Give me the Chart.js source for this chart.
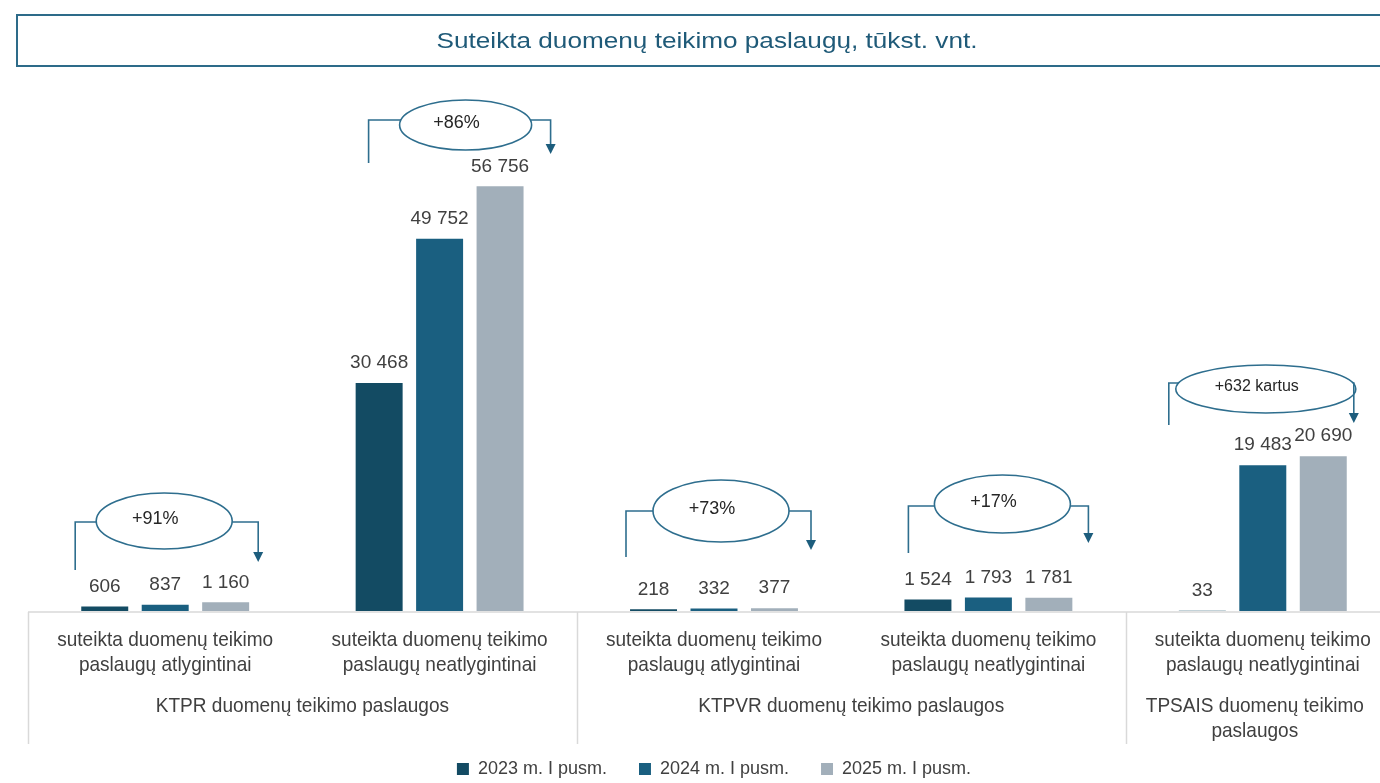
<!DOCTYPE html>
<html>
<head>
<meta charset="utf-8">
<script src="https://cdn.jsdelivr.net/npm/chart.js@4.4.1/dist/chart.umd.min.js"></script>
<style>
  html, body { margin: 0; padding: 0; background: #fff; }
  #wrap { width: 1380px; height: 783px; overflow: hidden; position: relative; }
  canvas { display: block; }
</style>
</head>
<body>
<div id="wrap"><canvas id="chart" width="1400" height="788"></canvas></div>
<script>
// data
const titleText = "Suteikta duomenų teikimo paslaugų, tūkst. vnt.";
const categoryLabels = [
    ["suteikta duomenų teikimo", "paslaugų atlygintinai"],
    ["suteikta duomenų teikimo", "paslaugų neatlygintinai"],
    ["suteikta duomenų teikimo", "paslaugų atlygintinai"],
    ["suteikta duomenų teikimo", "paslaugų neatlygintinai"],
    ["suteikta duomenų teikimo", "paslaugų neatlygintinai"]
];
const groupLabels = [
    ["KTPR duomenų teikimo paslaugos"],
    ["KTPVR duomenų teikimo paslaugos"],
    ["TPSAIS duomenų teikimo", "paslaugos"]
];
const groupRanges = [[0, 1], [2, 3], [4, 4]];
const seriesNames = ["2023 m. I pusm.", "2024 m. I pusm.", "2025 m. I pusm."];
const values2023 = [606, 30468, 218, 1524, 33];
const values2024 = [837, 49752, 332, 1793, 19483];
const values2025 = [1160, 56756, 377, 1781, 20690];
const changeTexts = ["+91%", "+86%", "+73%", "+17%", "+632 kartus"];

const seriesColors = ["#134b63", "#1a5f80", "#a2afba"];
const textColor = "#404040";
const lineColor = "#2e6e8e";
const sansFont = '"Liberation Sans", Arial, sans-serif';

// callout shapes: x offsets from the category centre, y in pixels
const callouts = [
    { cat: 0, left: -90, right: 93, ex: -1, ey: 521, rx: 68, ry: 28, lineY: 522, leftBottom: 570, tip: 562, size: 18 },
    { cat: 1, left: -71, right: 111, ex: 26, ey: 125, rx: 66, ry: 25, lineY: 120, leftBottom: 163, tip: 154, size: 18 },
    { cat: 2, left: -88, right: 97, ex: 7, ey: 511, rx: 68, ry: 31, lineY: 511, leftBottom: 557, tip: 550, size: 18 },
    { cat: 3, left: -80, right: 100, ex: 14, ey: 504, rx: 68, ry: 29, lineY: 506, leftBottom: 553, tip: 543, size: 18 },
    { cat: 4, left: -94, right: 91, ex: 3, ey: 389, rx: 90, ry: 24, lineY: 383, leftBottom: 425, tip: 423, size: 16 }
];

function fmt(v) {
    return String(v).replace(/\B(?=(\d{3})+(?!\d))/g, " ");
}

function condensedText(ctx, text, x, y, sx) {
    ctx.save();
    ctx.translate(x, y);
    ctx.scale(sx, 1);
    ctx.fillText(text, 0, 0);
    ctx.restore();
}

function ellipseEdge(c, y, side) {
    let t = (y - c.ey) / c.ry;
    let w = c.rx * Math.sqrt(Math.max(0, 1 - t * t));
    return side < 0 ? -w : w;
}

const decorations = {
    id: "decorations",
    afterDraw(chart) {
        const ctx = chart.ctx;
        const area = chart.chartArea;
        const x = chart.scales.x;
        const base = area.bottom;

        // title box
        ctx.save();
        ctx.strokeStyle = "#2d6b89";
        ctx.lineWidth = 2;
        ctx.strokeRect(17, 15, 1380, 51);
        ctx.font = "22px " + sansFont;
        let sxTitle = 541 / ctx.measureText(titleText).width;
        ctx.fillStyle = "#1f5a78";
        ctx.textAlign = "center";
        ctx.textBaseline = "middle";
        condensedText(ctx, titleText, 707, 42, sxTitle);
        ctx.restore();

        // axis line and separators
        ctx.save();
        ctx.strokeStyle = "#d9d9d9";
        ctx.lineWidth = 1.5;
        ctx.beginPath();
        ctx.moveTo(area.left, base + 1);
        ctx.lineTo(chart.width, base + 1);
        let seps = [area.left];
        groupRanges.forEach((r, i) => {
            if (i > 0) seps.push((x.getPixelForValue(r[0] - 1) + x.getPixelForValue(r[0])) / 2);
        });
        seps.forEach(sx => {
            ctx.moveTo(Math.round(sx) + 0.5, base + 1);
            ctx.lineTo(Math.round(sx) + 0.5, base + 133);
        });
        ctx.stroke();
        ctx.restore();

        // category and group labels
        ctx.save();
        ctx.font = "21px " + sansFont;
        let sxLab = 216 / ctx.measureText("suteikta duomenų teikimo").width;
        ctx.fillStyle = textColor;
        ctx.textAlign = "center";
        ctx.textBaseline = "middle";
        categoryLabels.forEach((lines, i) => {
            let cx = x.getPixelForValue(i);
            lines.forEach((t, k) => condensedText(ctx, t, cx, base + 29 + k * 25, sxLab));
        });
        groupLabels.forEach((lines, g) => {
            let r = groupRanges[g];
            let cx = (x.getPixelForValue(r[0]) + x.getPixelForValue(r[1])) / 2;
            if (r[0] === r[1]) cx -= 8;
            lines.forEach((t, k) => condensedText(ctx, t, cx, base + 95 + k * 25, sxLab));
        });
        ctx.restore();

        // value labels
        ctx.save();
        ctx.font = "19px " + sansFont;
        ctx.fillStyle = textColor;
        ctx.textAlign = "center";
        ctx.textBaseline = "middle";
        chart.data.datasets.forEach((ds, d) => {
            chart.getDatasetMeta(d).data.forEach((bar, i) => {
                ctx.fillText(fmt(ds.data[i]), bar.x, bar.y - 20);
            });
        });
        ctx.restore();

        // change callouts
        callouts.forEach((c, n) => {
            let cx = x.getPixelForValue(c.cat);
            let e = { ex: cx + c.ex, ey: c.ey, rx: c.rx, ry: c.ry };
            let lx = cx + c.left;
            let rxp = cx + c.right;
            ctx.save();
            ctx.strokeStyle = lineColor;
            ctx.lineWidth = 1.6;
            ctx.beginPath();
            ctx.ellipse(e.ex, e.ey, e.rx, e.ry, 0, 0, Math.PI * 2);
            ctx.stroke();
            ctx.beginPath();
            ctx.moveTo(lx, c.leftBottom);
            ctx.lineTo(lx, c.lineY);
            ctx.lineTo(e.ex + ellipseEdge(c, c.lineY, -1), c.lineY);
            ctx.moveTo(Math.min(e.ex + ellipseEdge(c, c.lineY, 1), rxp), c.lineY);
            ctx.lineTo(rxp, c.lineY);
            ctx.lineTo(rxp, c.tip - 9);
            ctx.stroke();
            ctx.fillStyle = "#1d5d7d";
            ctx.beginPath();
            ctx.moveTo(rxp - 5, c.tip - 10);
            ctx.lineTo(rxp + 5, c.tip - 10);
            ctx.lineTo(rxp, c.tip);
            ctx.closePath();
            ctx.fill();
            ctx.font = c.size + "px " + sansFont;
            ctx.fillStyle = "#262626";
            ctx.textAlign = "center";
            ctx.textBaseline = "middle";
            ctx.fillText(changeTexts[n], e.ex - 9, e.ey - 2);
            ctx.restore();
        });
    }
};

new Chart(document.getElementById("chart"), {
    type: "bar",
    data: {
        labels: categoryLabels.map(l => l.join(" ")),
        datasets: [
            { label: seriesNames[0], data: values2023, backgroundColor: seriesColors[0] },
            { label: seriesNames[1], data: values2024, backgroundColor: seriesColors[1] },
            { label: seriesNames[2], data: values2025, backgroundColor: seriesColors[2] }
        ]
    },
    options: {
        responsive: false,
        animation: false,
        layout: { padding: { top: 162, left: 28, right: 0, bottom: 0 } },
        datasets: { bar: { categoryPercentage: 0.661, barPercentage: 0.777 } },
        plugins: {
            legend: {
                position: "bottom",
                labels: {
                    boxWidth: 12,
                    boxHeight: 12,
                    padding: 32,
                    color: textColor,
                    font: { family: sansFont, size: 18 }
                }
            },
            tooltip: { enabled: false }
        },
        scales: {
            x: {
                grid: { display: false },
                border: { display: false },
                ticks: { display: false },
                afterFit: function (s) { s.height = 117; }
            },
            y: { display: false, min: 0, max: 60000 }
        }
    },
    plugins: [decorations]
});
</script>
</body>
</html>
